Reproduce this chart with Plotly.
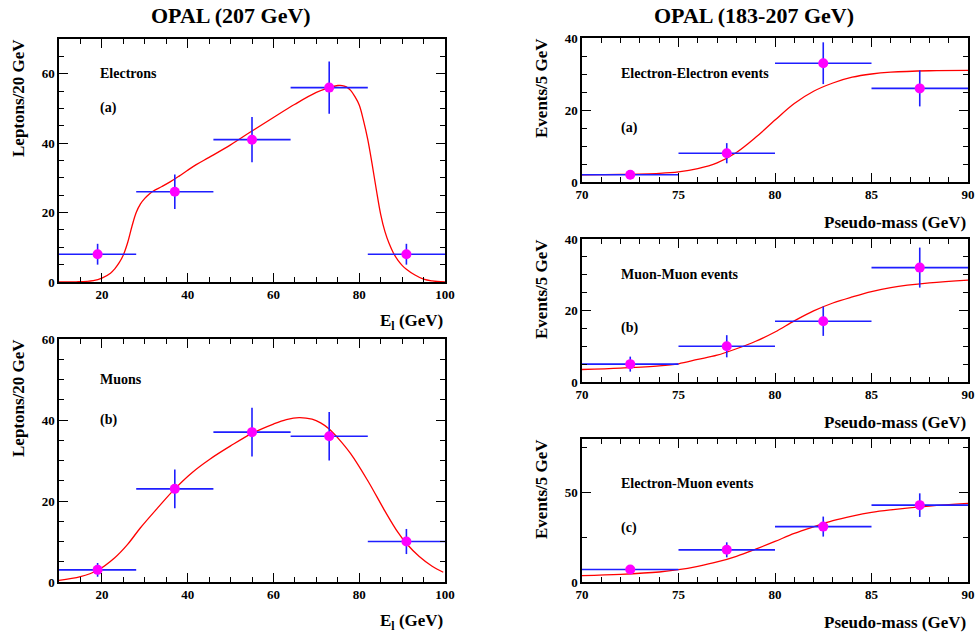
import plotly.graph_objects as go

W, H = 977, 637

# ---- left column: lepton energy spectra (OPAL 207 GeV)
e_x = [19, 37, 55, 73, 91]
e_xerr = [9, 9, 9, 9, 9]
el_y = [8, 26, 41, 56, 8]
el_yerr = [3, 5, 6.5, 7.5, 3]
el_fit_x = [10, 14, 18, 20, 22, 23, 24, 25, 26, 27, 28, 29, 30, 31, 32, 34, 36, 38, 40,
            42, 45, 50, 55, 60, 65, 70, 73, 75, 76, 77, 78, 79, 80, 81, 82, 83, 84, 85, 86,
            87, 88, 89, 90, 91, 93, 95, 97, 100]
el_fit_y = [0, 0.05, 0.4, 1.1, 2.5, 3.8, 5.5, 7.8, 11.3, 16, 20, 22.5, 24.1, 25.3, 26.2,
            27.5, 28.9, 30.5, 32.2, 33.8, 35.9, 39.5, 43.5, 47.4, 51.2, 54.6, 56, 56.6,
            56.6, 56.2, 55.2, 53.4, 51, 46.5, 41, 34, 26.5, 19.5, 14.5, 11, 8.3, 6.3, 4.8,
            3.7, 2, 0.8, 0.3, 0]

mu_y = [3, 23, 37, 36, 10]
mu_yerr = [1.7, 4.8, 6, 6, 3.1]
mu_fit_x = [10, 15, 19, 23, 26, 29, 33, 37, 41, 45, 50, 55, 60, 63, 66, 69, 71, 73, 75, 78,
            82, 86, 89, 91, 94, 97, 99.6]
mu_fit_y = [0.4, 1.3, 2.9, 6.0, 9.3, 13.4, 18.3, 23, 27, 30.2, 33.6, 36.7, 39, 40.1, 40.6,
            40.2, 39.3, 37.8, 35.6, 31.7, 25, 17.5, 12.3, 9.5, 6.3, 3.9, 2.4]

# ---- right column: pseudo-mass (OPAL 183-207 GeV)
m_x = [72.5, 77.5, 82.5, 87.5]
m_xerr = [2.5, 2.5, 2.5, 2.5]
ee_y = [2, 8, 33, 26]
ee_yerr = [1.2, 2.8, 5.8, 5]
mm_y = [5, 10, 17, 32]
mm_yerr = [2.1, 3.1, 4.1, 5.6]
em_y = [7, 18, 31, 43]
em_yerr = [2.5, 4.2, 5.6, 6.6]
m_fit_x = [70, 72, 74, 75, 76, 77, 78, 79, 80, 81, 82, 83, 84, 85, 86, 88, 90]
ee_fit_y = [2.0, 2.1, 2.4, 2.8, 3.7, 5.3, 8.2, 12.4, 17.2, 21.8, 25.2, 27.5, 29.1, 30.0,
            30.5, 30.9, 31.0]
mm_fit_y = [3.5, 3.9, 4.5, 5.1, 6.3, 7.5, 9.3, 11.4, 14, 17.1, 19.9, 22.1, 23.8, 25.3,
            26.4, 27.7, 28.5]
em_fit_y = [3.6, 4.3, 5.6, 6.9, 8.8, 11.2, 14.4, 18.4, 22.7, 27.2, 30.9, 34.3, 36.9, 39,
            40.4, 42.5, 44]

FONT = '"Times New Roman", "Liberation Serif", Times, serif'
BLUE = "rgb(30,30,255)"
MAGENTA = "#ff00ff"
RED = "#ff0000"

# panel boxes in pixels: (left, right, top, bottom)
panels = [
    dict(box=(59, 445, 39, 282), xr=[10, 100], yr=[0, 70], xd=20, xm=5, yd=20, ym=5,
         x=e_x, xe=e_xerr, y=el_y, ye=el_yerr, fx=el_fit_x, fy=el_fit_y,
         labels=[("Electrons", 60), ("(a)", 50)], lx=19,
         ytitle="Leptons/20 GeV", xtitle="E<sub>l</sub> (GeV)"),
    dict(box=(59, 445, 339, 582), xr=[10, 100], yr=[0, 60], xd=20, xm=5, yd=20, ym=5,
         x=e_x, xe=e_xerr, y=mu_y, ye=mu_yerr, fx=mu_fit_x, fy=mu_fit_y,
         labels=[("Muons", 50), ("(b)", 40)], lx=19,
         ytitle="Leptons/20 GeV", xtitle="E<sub>l</sub> (GeV)"),
    dict(box=(582, 968, 38, 182), xr=[70, 90], yr=[0, 40], xd=5, xm=1, yd=20, ym=5,
         x=m_x, xe=m_xerr, y=ee_y, ye=ee_yerr, fx=m_fit_x, fy=ee_fit_y,
         labels=[("Electron-Electron events", 30), ("(a)", 15)], lx=71.9,
         ytitle="Events/5 GeV", xtitle="Pseudo-mass (GeV)"),
    dict(box=(582, 968, 239, 382), xr=[70, 90], yr=[0, 40], xd=5, xm=1, yd=20, ym=5,
         x=m_x, xe=m_xerr, y=mm_y, ye=mm_yerr, fx=m_fit_x, fy=mm_fit_y,
         labels=[("Muon-Muon events", 30), ("(b)", 15)], lx=71.9,
         ytitle="Events/5 GeV", xtitle="Pseudo-mass (GeV)"),
    dict(box=(582, 968, 439, 582), xr=[70, 90], yr=[0, 80], xd=5, xm=1, yd=50, ym=25,
         x=m_x, xe=m_xerr, y=em_y, ye=em_yerr, fx=m_fit_x, fy=em_fit_y,
         labels=[("Electron-Muon events", 55), ("(c)", 30)], lx=71.9,
         ytitle="Events/5 GeV", xtitle="Pseudo-mass (GeV)"),
]

fig = go.Figure()
annotations = []
layout_axes = {}

for i, p in enumerate(panels, start=1):
    sfx = "" if i == 1 else str(i)
    xa, ya = "x" + sfx, "y" + sfx
    l, r, t, b = p["box"]

    fig.add_trace(go.Scatter(
        x=p["fx"], y=p["fy"], mode="lines",
        line=dict(color=RED, width=1.3, shape="spline", smoothing=1),
        xaxis=xa, yaxis=ya, showlegend=False, hoverinfo="skip",
    ))
    fig.add_trace(go.Scatter(
        x=p["x"], y=p["y"], mode="markers",
        marker=dict(color=MAGENTA, size=10),
        error_x=dict(type="data", array=p["xe"], width=0, thickness=1.6, color=BLUE),
        error_y=dict(type="data", array=p["ye"], width=0, thickness=1.6, color=BLUE),
        xaxis=xa, yaxis=ya, showlegend=False,
    ))

    common = dict(showline=True, linecolor="black", linewidth=1.5, mirror="allticks",
                  ticks="inside", ticklen=9, tickwidth=1.2, tickcolor="black",
                  showgrid=False, zeroline=False, automargin=False,
                  tickfont=dict(family=FONT, size=13, color="black", weight="bold"))
    layout_axes["xaxis" + sfx] = dict(
        common, domain=[l / W, r / W], range=p["xr"], anchor=ya, tick0=0, dtick=p["xd"],
        minor=dict(dtick=p["xm"], ticks="inside", ticklen=5, tickcolor="black", tickwidth=1),
    )
    layout_axes["yaxis" + sfx] = dict(
        common, domain=[1 - b / H, 1 - t / H], range=p["yr"], anchor=xa, tick0=0, dtick=p["yd"],
        minor=dict(dtick=p["ym"], ticks="inside", ticklen=5, tickcolor="black", tickwidth=1),
    )

    for text, yv in p["labels"]:
        annotations.append(dict(
            x=p["lx"], y=yv, xref=xa, yref=ya, text=text, showarrow=False,
            xanchor="left", yanchor="middle",
            font=dict(family=FONT, size=14, color="black", weight="bold"),
        ))

    # axis titles, ROOT style: at the far end of each axis
    if l < 300:
        ycx, ycy = 18, t + 59
    else:
        ycx, ycy = 541, t + 50
    annotations.append(dict(
        x=ycx / W, y=1 - ycy / H, xref="paper", yref="paper", text=p["ytitle"],
        showarrow=False, textangle=-90, xanchor="center", yanchor="middle",
        font=dict(family=FONT, size=17, color="black", weight="bold"),
    ))
    annotations.append(dict(
        x=r / W, y=1 - (b + 40) / H, xref="paper", yref="paper", text=p["xtitle"],
        showarrow=False, xanchor="right", yanchor="middle",
        font=dict(family=FONT, size=17, color="black", weight="bold"),
    ))

annotations.append(dict(
    x=231 / W, y=1 - 15 / H, xref="paper", yref="paper", text="OPAL (207 GeV)",
    showarrow=False, xanchor="center", yanchor="middle",
    font=dict(family=FONT, size=22, color="black", weight="bold"),
))
annotations.append(dict(
    x=754 / W, y=1 - 15 / H, xref="paper", yref="paper", text="OPAL (183-207 GeV)",
    showarrow=False, xanchor="center", yanchor="middle",
    font=dict(family=FONT, size=22, color="black", weight="bold"),
))

fig.update_layout(
    width=W, height=H,
    margin=dict(l=0, r=0, t=0, b=0, autoexpand=False),
    paper_bgcolor="white", plot_bgcolor="white",
    font=dict(family=FONT, color="black"),
    annotations=annotations,
    **layout_axes,
)

# the page body has a default margin; drop it so the figure sits at the window corner
fig.write_html("out.html", config={"displayModeBar": False},
               post_script="document.body.style.margin='0';")
